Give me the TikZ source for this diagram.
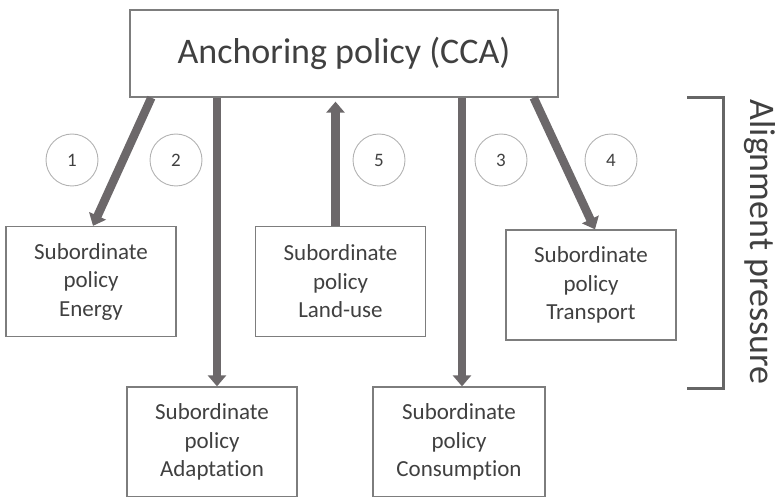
\documentclass[tikz,border=0pt]{standalone}
\usepackage{fontspec}
\setmainfont{Carlito}[Ligatures=NoCommon]
\usepackage{tikz}
\usetikzlibrary{arrows.meta}

\definecolor{arrowgray}{RGB}{108,104,106}
\definecolor{boxgray}{RGB}{125,125,125}
\definecolor{textgray}{RGB}{64,64,64}

\begin{document}
\begin{tikzpicture}[x=1pt,y=-1pt,
		policybox/.style={draw=boxgray,line width=1.3pt,text=textgray,align=center,
			font=\fontsize{23}{28.5}\selectfont,minimum width=170pt,minimum height=110pt,inner sep=0pt},
		numcircle/.style={circle,draw=gray!60,line width=0.9pt,minimum size=52pt,inner sep=0pt,
			text=textgray,font=\fontsize{19}{22}\selectfont},
		pressure/.style={line width=8.5pt,draw=arrowgray,-{Triangle[width=18pt,length=11pt]}}]
		\useasboundingbox (0,0) rectangle (777,497);

		% >>> policies
		\node[draw=boxgray,line width=1.3pt,text=textgray,font=\fontsize{36}{43}\selectfont,
			minimum width=428pt,minimum height=87pt,inner sep=0pt] (cca) at (344,53.5) {Anchoring policy (CCA)};
		\node[policybox] (energy) at (91,281.5) {Subordinate\\policy\\Energy};
		\node[policybox] (landuse) at (340.5,281.5) {Subordinate\\policy\\Land-use};
		\node[policybox] (transport) at (591,285) {Subordinate\\policy\\Transport};
		\node[policybox] (adaptation) at (212,442) {Subordinate\\policy\\Adaptation};
		\node[policybox,minimum width=172pt] (consumption) at (459,442) {Subordinate\\policy\\Consumption};
		% <<< policies

		% >>> alignment arrows
		\draw[pressure] ([xshift=22pt]cca.south west) -- ([xshift=2pt]energy.north);
		\draw[pressure] ([xshift=5pt]adaptation.north |- cca.south) -- ([xshift=5pt]adaptation.north);
		\draw[pressure,shorten >=4pt] ([xshift=-5pt]landuse.north) -- ([xshift=-5pt]landuse.north |- cca.south);
		\draw[pressure] ([xshift=3pt]consumption.north |- cca.south) -- ([xshift=3pt]consumption.north);
		\draw[pressure] ([xshift=-25pt]cca.south east) -- ([xshift=4pt]transport.north);
		% <<< alignment arrows

		% >>> numbers
		\node[numcircle] (n1) at (72,160) {1};
		\node[numcircle] (n2) at (176,160) {2};
		\node[numcircle] (n5) at (379,160) {5};
		\node[numcircle] (n3) at (501,160) {3};
		\node[numcircle] (n4) at (611,160) {4};
		% <<< numbers

		% >>> bracket
		\draw[textgray!80,line width=3pt] (687,98) -- (723,98) -- (723,388) -- (687,388);
		\node[rotate=-90,text=textgray,font=\fontsize{36}{43}\selectfont] (label) at (760,242) {Alignment pressure};
		% <<< bracket
	\end{tikzpicture}
\end{document}
